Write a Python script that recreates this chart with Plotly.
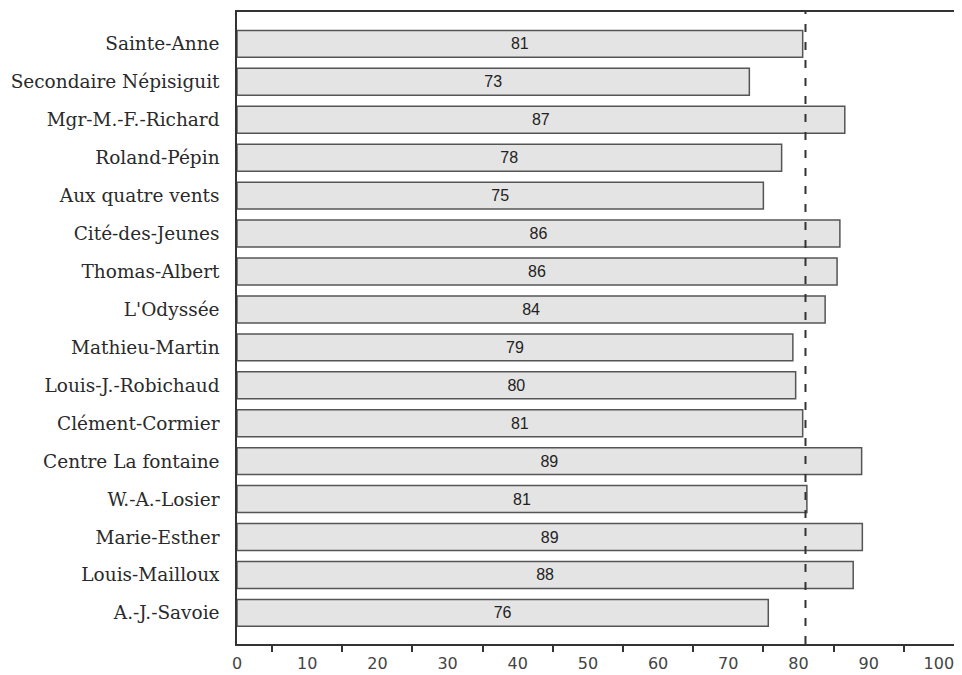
import plotly.graph_objects as go

schools = ["Sainte-Anne", "Secondaire Népisiguit", "Mgr-M.-F.-Richard", "Roland-Pépin",
           "Aux quatre vents", "Cité-des-Jeunes", "Thomas-Albert", "L'Odyssée",
           "Mathieu-Martin", "Louis-J.-Robichaud", "Clément-Cormier", "Centre La fontaine",
           "W.-A.-Losier", "Marie-Esther", "Louis-Mailloux", "A.-J.-Savoie"]
values = [80.6, 73.0, 86.6, 77.6, 75.0, 85.9, 85.5, 83.8, 79.2, 79.6, 80.6, 89.0,
          81.2, 89.1, 87.8, 75.7]
value_labels = ["81", "73", "87", "78", "75", "86", "86", "84", "79", "80", "81", "89",
                "81", "89", "88", "76"]
average = 81.0
tick_vals = [0, 10, 20, 30, 40, 50, 60, 70, 80, 90, 100]
minor_vals = [5, 15, 25, 35, 45, 55, 65, 75, 85, 95]

fig = go.Figure()
fig.add_trace(go.Bar(
    y=schools, x=values, orientation="h",
    marker=dict(color="#e4e4e4", line=dict(color="#555555", width=1.5)),
    text=value_labels, textposition="inside", insidetextanchor="middle",
    textangle=0,
    textfont=dict(family="Liberation Sans, Arial, sans-serif", size=16, color="#222222"),
    hoverinfo="skip",
))
fig.add_shape(type="line", xref="x", yref="paper", x0=average, x1=average, y0=0, y1=1,
              line=dict(color="#333333", width=2, dash="8px,10px"))

fig.update_layout(
    width=954, height=667,
    margin=dict(l=229, r=0, t=4, b=31),
    paper_bgcolor="white", plot_bgcolor="white",
    bargap=0.29, showlegend=False,
)
fig.update_xaxes(
    range=[0, 103.3], tickvals=tick_vals, ticktext=[str(v) for v in tick_vals],
    ticks="outside", ticklen=4, tickcolor="rgba(0,0,0,0)",
    minor=dict(tickvals=minor_vals, ticks="outside", ticklen=6, tickcolor="#333333", tickwidth=1.5),
    showline=True, linecolor="#333333", linewidth=1.5, mirror=True,
    showgrid=False, zeroline=False, automargin=False,
    tickfont=dict(family="DejaVu Sans, sans-serif", size=16, color="#444444"),
    ticklabelstandoff=0,
)
fig.update_yaxes(
    categoryorder="array", categoryarray=schools, range=[15.82, -0.84],
    showline=True, linecolor="#333333", linewidth=1.5, showgrid=False, zeroline=False,
    ticks="", ticklabelstandoff=12, automargin=False,
    tickfont=dict(family="DejaVu Serif, serif", size=18.5, color="#2a2a2a"),
)
fig.write_html("out.html")
